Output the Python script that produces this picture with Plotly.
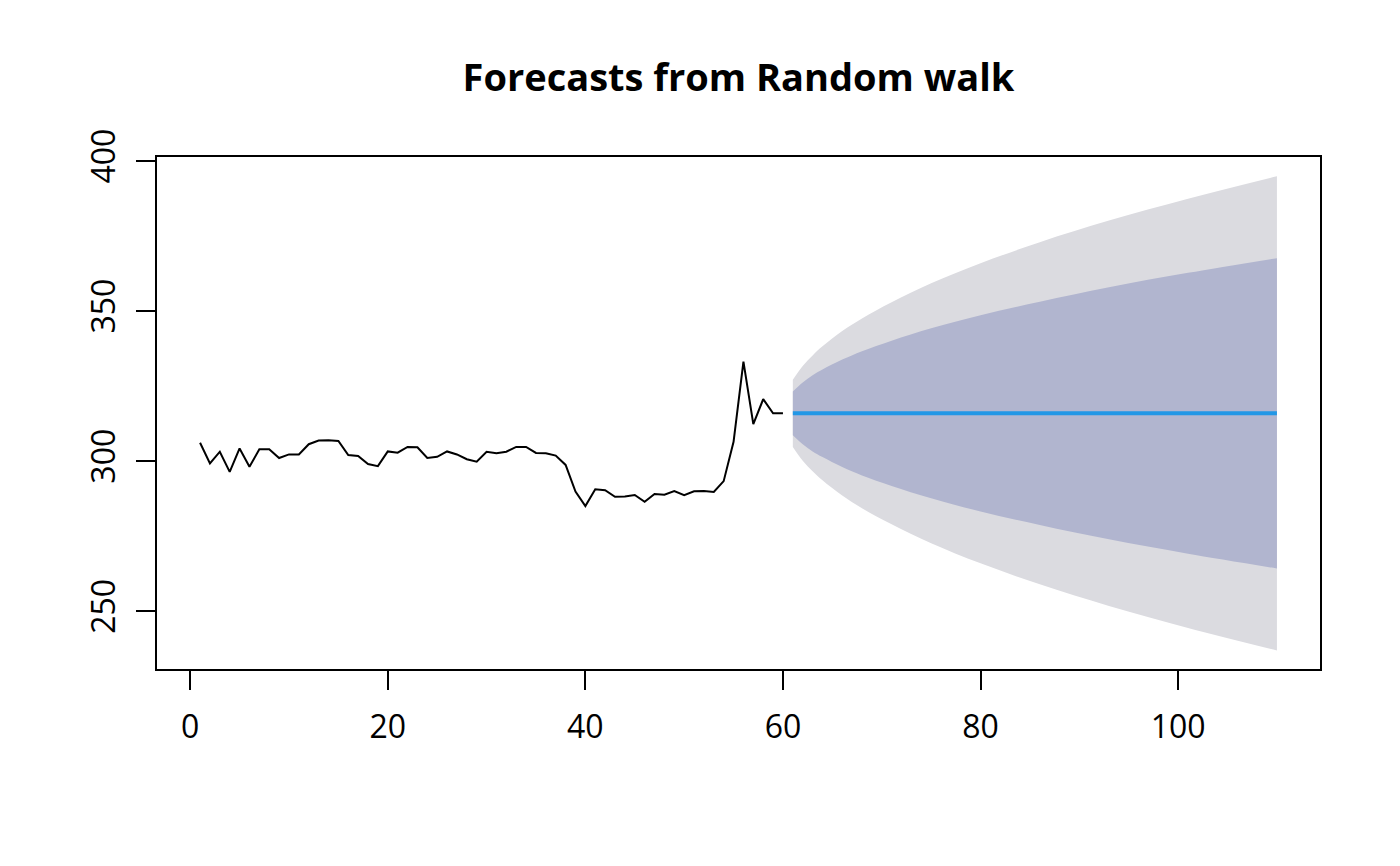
import plotly.graph_objects as go

obs_t = list(range(1, 61))
obs_y = [
    306.1, 299.2, 303.1, 296.4, 304.2, 298.1, 303.9, 303.9, 301.0, 302.2,
    302.2, 305.6, 306.8, 306.9, 306.7, 302.0, 301.7, 299.0, 298.3, 303.2,
    302.8, 304.7, 304.6, 301.0, 301.4, 303.2, 302.2, 300.6, 299.8, 303.1,
    302.6, 303.1, 304.7, 304.7, 302.7, 302.6, 301.8, 298.7, 289.8, 285.0,
    290.6, 290.3, 288.1, 288.2, 288.7, 286.4, 289.0, 288.8, 290.0, 288.6,
    289.9, 290.0, 289.7, 293.3, 306.4, 333.1, 312.3, 320.6, 315.9, 315.9,
]

# forecast band, read at a handful of horizons
fc_x = [61, 62, 63, 64, 66, 68, 71, 75, 80, 86, 93, 101, 110]
fc_mean = [315.9] * len(fc_x)
hi95 = [327.1, 331.7, 335.2, 338.2, 343.3, 347.5, 352.9, 359.2, 365.9, 372.9, 380.1, 387.4, 394.9]
lo95 = [304.7, 300.1, 296.6, 293.6, 288.5, 284.3, 278.9, 272.6, 265.9, 258.9, 251.7, 244.4, 236.9]
hi80 = [323.2, 326.2, 328.6, 330.5, 333.8, 336.6, 340.1, 344.2, 348.6, 353.1, 357.9, 362.7, 367.6]
lo80 = [308.6, 305.6, 303.2, 301.3, 298.0, 295.2, 291.7, 287.6, 283.2, 278.7, 273.9, 269.1, 264.2]

col95 = "#DBDBE0"
col80 = "#B1B5CF"
col_mean = "#2297E6"

fig = go.Figure()

# 95% band
fig.add_trace(go.Scatter(x=fc_x, y=lo95, mode="lines", line=dict(width=0, shape="spline"),
                         showlegend=False, hoverinfo="skip"))
fig.add_trace(go.Scatter(x=fc_x, y=hi95, mode="lines", line=dict(width=0, shape="spline"),
                         fill="tonexty", fillcolor=col95, showlegend=False, hoverinfo="skip"))
# 80% band
fig.add_trace(go.Scatter(x=fc_x, y=lo80, mode="lines", line=dict(width=0, shape="spline"),
                         showlegend=False, hoverinfo="skip"))
fig.add_trace(go.Scatter(x=fc_x, y=hi80, mode="lines", line=dict(width=0, shape="spline"),
                         fill="tonexty", fillcolor=col80, showlegend=False, hoverinfo="skip"))

# observed
fig.add_trace(go.Scatter(x=obs_t, y=obs_y, mode="lines", line=dict(color="black", width=2),
                         showlegend=False))
# point forecast
fig.add_trace(go.Scatter(x=fc_x, y=fc_mean, mode="lines", line=dict(color=col_mean, width=4),
                         showlegend=False))

axis_common = dict(
    showgrid=False, zeroline=False,
    showline=True, linecolor="black", linewidth=1.5, mirror=True,
    ticks="outside", ticklen=19, tickwidth=1.5, tickcolor="black",
    tickfont=dict(size=32, color="black"),
)

# page body adds an 8px offset, so margins are shifted to compensate
fig.update_layout(
    width=1400, height=866,
    paper_bgcolor="white", plot_bgcolor="white",
    font=dict(family="Open Sans", color="black"),
    margin=dict(l=149, r=88, t=149, b=205),
    title=dict(text="<b>Forecasts from Random walk</b>", x=0.5, xref="paper",
               y=1 - 70 / 866, yref="container", xanchor="center", yanchor="middle",
               font=dict(size=38, color="black")),
    xaxis=dict(range=[-3.36, 114.36], tickvals=[0, 20, 40, 60, 80, 100],
               ticklabelstandoff=10, **axis_common),
    yaxis=dict(range=[230.7, 401.3], tickvals=[250, 300, 350, 400], tickangle=-90,
               ticklabelstandoff=8, **axis_common),
)

fig.write_html("out.html")
